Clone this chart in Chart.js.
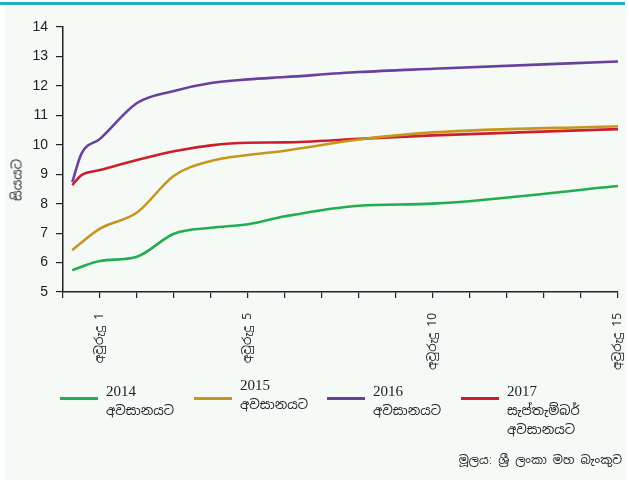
<!DOCTYPE html>
<html>
<head>
<meta charset="utf-8">
<script src="https://cdn.jsdelivr.net/npm/chart.js@4.4.0/dist/chart.umd.min.js"></script>
<style>
  body { margin: 0; background: #fff; width: 629px; height: 487px; overflow: hidden; position: relative; }
  .panel { position: absolute; left: 5px; top: 5px; width: 622px; height: 475px; background: #f5faf7; }
  .topbar { position: absolute; left: 0; top: 2px; width: 625px; height: 3px; background: #22afc4; }
  #chart { position: absolute; left: 0; top: 0; }
  .ytitle { position: absolute; left: 17px; top: 180px; transform: translate(-50%, -50%) rotate(-90deg);
    font: 13px "Noto Sans Sinhala", "Iskoola Pota", "LKLUG", sans-serif; color: #222; white-space: nowrap; }
  .leg { position: absolute; font: 15px "Liberation Serif", serif; color: #222; line-height: 19px; }
  .leg .si { font: 13px "Noto Sans Sinhala", "Iskoola Pota", "LKLUG", sans-serif; }
  .sw { position: absolute; height: 3px; width: 38px; }
  .source { position: absolute; right: 7px; top: 452px; font: 12px "Noto Sans Sinhala", "Iskoola Pota", "LKLUG", sans-serif; color: #222; }
</style>
</head>
<body>
<div class="panel"></div>
<div class="topbar"></div>
<canvas id="chart" width="629" height="487"></canvas>
<div class="ytitle">සියයට</div>
<div id="legend"></div>
<div class="source">මූලයː ශ්‍රී ලංකා මහ බැංකුව</div>
<script>
// Treasury yield curves (years to maturity vs percent)
const maturities = [0.25, 0.5, 1, 2, 3, 4, 5, 6, 8, 10, 15];
const yield2014 = [5.74, 5.86, 6.05, 6.2, 6.98, 7.18, 7.3, 7.57, 7.93, 8.0, 8.6];
const yield2015 = [6.42, 6.68, 7.15, 7.7, 8.95, 9.45, 9.65, 9.8, 10.18, 10.42, 10.63];
const yield2016 = [8.73, 9.7, 10.2, 11.42, 11.83, 12.1, 12.22, 12.3, 12.47, 12.58, 12.83];
const yield2017 = [8.63, 8.97, 9.14, 9.48, 9.78, 9.98, 10.07, 10.08, 10.2, 10.32, 10.53];

const seriesNames = [['2014', 'අවසානයට'], ['2015', 'අවසානයට'], ['2016', 'අවසානයට'], ['2017', 'සැප්තැම්බර්', 'අවසානයට']];
const seriesColors = ['#22ad50', '#c8951f', '#6b3f9e', '#cc1f2c'];
const xLabelYears = [1, 5, 10, 15];
const yTickValues = [5, 6, 7, 8, 9, 10, 11, 12, 13, 14];

const allYields = [yield2014, yield2015, yield2016, yield2017];

const datasets = allYields.map((vals, i) => ({
    label: seriesNames[i].join(' '),
    data: maturities.map((m, j) => ({ x: m, y: vals[j] })),
    borderColor: seriesColors[i],
    borderWidth: 2.6,
    pointRadius: 0,
    fill: false,
    cubicInterpolationMode: 'monotone'
}));

new Chart(document.getElementById('chart'), {
    type: 'line',
    data: { datasets: datasets },
    options: {
        responsive: false,
        animation: false,
        layout: { padding: { left: 0, right: 11, top: 27, bottom: 95 } },
        plugins: { legend: { display: false }, tooltip: { enabled: false } },
        scales: {
            x: {
                type: 'linear',
                min: 0,
                max: 15,
                afterFit: s => { s.height = 100; s.paddingLeft = 0; s.paddingRight = 0; },
                ticks: {
                    stepSize: 1,
                    autoSkip: false,
                    minRotation: 90,
                    maxRotation: 90,
                    padding: 15,
                    color: '#222',
                    font: { family: '"Noto Sans Sinhala", "Iskoola Pota", "LKLUG", sans-serif', size: 12 },
                    callback: v => xLabelYears.includes(v) ? 'අවුරුදු ' + v : ''
                },
                grid: { drawOnChartArea: false, drawTicks: true, tickLength: 6, color: '#222', lineWidth: 1.2 },
                border: { color: '#222', width: 1.5 }
            },
            y: {
                min: 5,
                max: 14,
                afterFit: s => { s.width = 63; },
                afterBuildTicks: s => { s.ticks = yTickValues.map(v => ({ value: v })); },
                ticks: {
                    padding: 8,
                    color: '#222',
                    font: { family: '"Liberation Sans", Arial, sans-serif', size: 14 }
                },
                grid: { drawOnChartArea: false, drawTicks: true, tickLength: 7, color: '#222', lineWidth: 1.2 },
                border: { color: '#222', width: 1.5 }
            }
        }
    }
});

// Legend below the plot
const legendX = [60, 194, 327, 461];
const legendTop = [382, 376, 382, 382];
const legend = document.getElementById('legend');
seriesNames.forEach((lines, i) => {
    const sw = document.createElement('div');
    sw.className = 'sw';
    sw.style.left = legendX[i] + 'px';
    sw.style.top = '397px';
    sw.style.background = seriesColors[i];
    legend.appendChild(sw);
    const txt = document.createElement('div');
    txt.className = 'leg';
    txt.style.left = (legendX[i] + 46) + 'px';
    txt.style.top = legendTop[i] + 'px';
    txt.innerHTML = lines.map((l, k) => k === 0 ? l : '<span class="si">' + l + '</span>').join('<br>');
    legend.appendChild(txt);
});
</script>
</body>
</html>
